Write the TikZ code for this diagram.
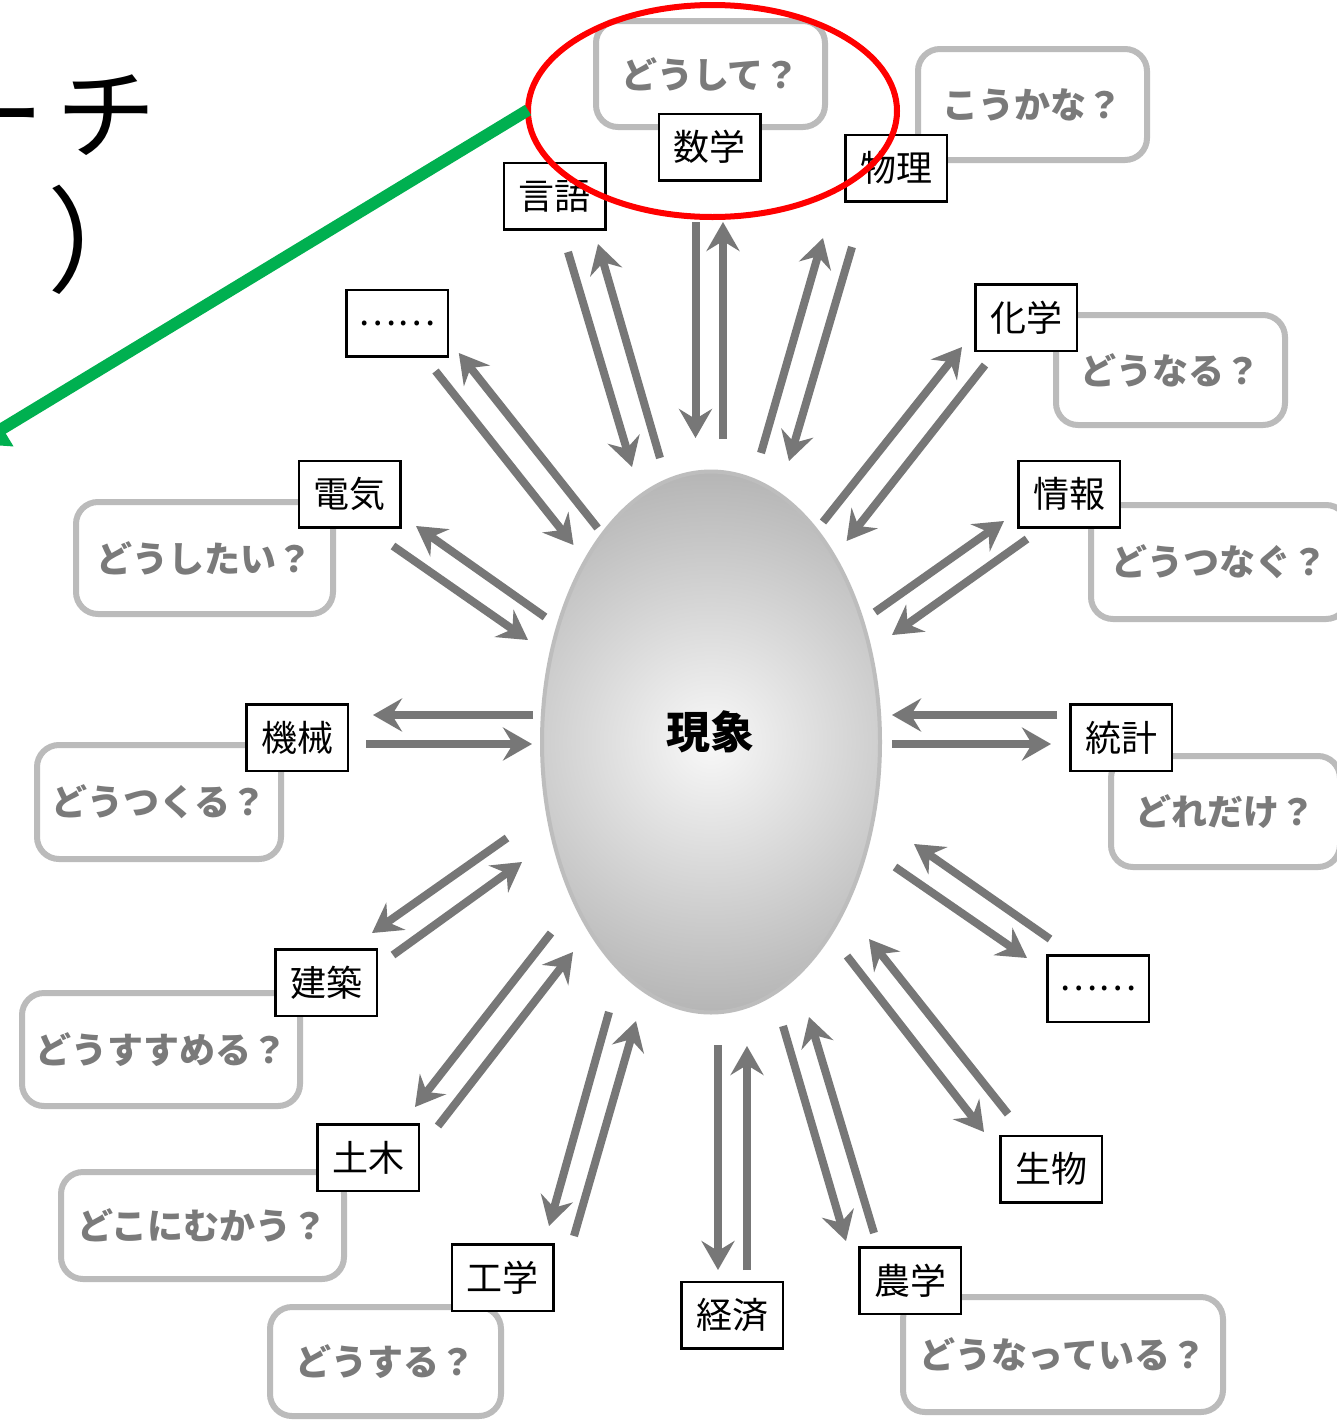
\documentclass[tikz,border=0pt]{standalone}
\usepackage{fontspec}
\newfontfamily\jp{Noto Sans CJK JP}
\usetikzlibrary{arrows.meta,shapes.geometric}
\definecolor{arrowgray}{HTML}{777777}
\definecolor{qborder}{HTML}{BBBBBB}
\definecolor{qtext}{HTML}{7A7A7A}
\definecolor{egin}{HTML}{F8F8F8}
\definecolor{egout}{HTML}{B5B5B5}
\definecolor{egline}{HTML}{BDBDBD}
\definecolor{hlgreen}{HTML}{00B050}
\pgfdeclareradialshading{eggshade}{\pgfpoint{0bp}{0bp}}{color(0bp)=(egin); color(25bp)=(egout); color(50bp)=(egout)}
\tikzset{
  subj/.style={draw=black, line width=2.5pt, fill=white, minimum width=101.5pt, minimum height=66.5pt, inner sep=0pt, font=\jp\fontsize{36}{40}\selectfont},
  qbox/.style={draw=qborder, line width=6pt, fill=white, rounded corners=22pt, inner sep=0pt, font=\jp\bfseries\fontsize{36}{40}\selectfont, text=qtext},
  flow/.style={draw=arrowgray, line width=8pt, -{Stealth[length=29pt,width=33pt,inset=10pt]}},
}
\newcommand\flowpair[5]{%
  \coordinate (#1-a0) at (#2); \coordinate (#1-a1) at (#3);
  \coordinate (#1-b0) at (#4); \coordinate (#1-b1) at (#5);
  \draw[flow] (#1-a0) -- (#1-a1);
  \draw[flow] (#1-b0) -- (#1-b1);}
\begin{document}
\begin{tikzpicture}[x=1pt,y=-1pt]
\useasboundingbox (0,0) rectangle (1337,1422);
\clip (0,0) rectangle (1337,1422);
\fill[white] (0,0) rectangle (1337,1422);

% question boxes
\node[qbox, minimum width=229pt, minimum height=106pt] (q-math) at (710.5,74) {どうして？};
\node[qbox, minimum width=229pt, minimum height=111pt] (q-phys) at (1032.5,104.5) {こうかな？};
\node[qbox, minimum width=229pt, minimum height=110pt] (q-chem) at (1170.5,370) {どうなる？};
\node[qbox, minimum width=257pt, minimum height=114pt] (q-info) at (1219.5,562) {どうつなぐ？};
\node[qbox, minimum width=229pt, minimum height=111pt] (q-stat) at (1225.5,811.5) {どれだけ？};
\node[qbox, minimum width=257pt, minimum height=112pt] (q-elec) at (204.5,558) {どうしたい？};
\node[qbox, minimum width=244pt, minimum height=114pt] (q-mech) at (159,802) {どうつくる？};
\node[qbox, minimum width=278pt, minimum height=113pt] (q-arch) at (161,1049.5) {どうすすめる？};
\node[qbox, minimum width=283pt, minimum height=107pt] (q-civil) at (202.5,1225.5) {どこにむかう？};
\node[qbox, minimum width=231pt, minimum height=109pt] (q-eng) at (385.5,1361.5) {どうする？};
\node[qbox, minimum width=320pt, minimum height=115pt] (q-agri) at (1063,1354.5) {どうなっている？};

% subject boxes
\node[subj] (math) at (709.5,147) {数学};
\node[subj] (lang) at (554.5,196) {言語};
\node[subj] (phys) at (896,168) {物理};
\node[subj] (etc1) at (397,323) {……};
\node[subj] (chem) at (1026,317.5) {化学};
\node[subj] (elec) at (349.5,494) {電気};
\node[subj] (info) at (1069,494) {情報};
\node[subj] (mech) at (297,737.5) {機械};
\node[subj] (stat) at (1121,737.5) {統計};
\node[subj] (arch) at (326,982.5) {建築};
\node[subj] (etc2) at (1098,988.5) {……};
\node[subj] (civil) at (368,1157.5) {土木};
\node[subj] (bio) at (1051,1169) {生物};
\node[subj] (eng) at (502.5,1277.5) {工学};
\node[subj] (econ) at (732,1315) {経済};
\node[subj] (agri) at (910,1280.5) {農学};

% central egg
\begin{scope}
  \clip (711,742) ellipse [x radius=169, y radius=270];
  \shade[shading=eggshade] (439,470) rectangle (983,1014);
\end{scope}
\node[ellipse, draw=egline, line width=4pt, minimum width=338pt, minimum height=541pt] (phen) at (711,742) {};
\node[font=\jp\bfseries\fontsize{44}{48}\selectfont, inner sep=0pt] (phentext) at (710,732) {現象};

% arrows
\flowpair{math}{695.5,222}{695.5,438}{723,439}{723,222}
\flowpair{lang}{568,252}{632,467}{660,458}{598,244}
\flowpair{phys}{761,453}{823,238}{852,247}{789,461}
\flowpair{etc1}{435.5,371}{573.5,545}{597.6,528}{458.8,353}
\flowpair{chem}{823,522}{962,347}{985,365}{846.6,541}
\flowpair{elec}{393,546}{528,640}{545,617}{416,526}
\flowpair{info}{875,612}{1004,521}{1027,539}{892,635}
\flowpair{stat}{1057,715}{892,715}{892,744}{1051,744}
\flowpair{mech}{533,715}{373,715}{366,744}{532,744}
\flowpair{arch}{507,838}{372,933}{393,955}{522,862}
\flowpair{etc2}{895,867}{1027,958}{1050,939}{914,844}
\flowpair{civil}{551,933}{415,1107}{438,1126}{573,952}
\flowpair{bio}{847,956}{984,1132}{1008,1114}{869,939}
\flowpair{eng}{609,1012}{549,1226}{574,1236}{636,1021}
\flowpair{econ}{718,1045}{718,1270}{747,1270}{747,1046}
\flowpair{agri}{783,1026}{846,1241}{874,1233}{809,1017}

% highlight
\node[ellipse, draw=red, line width=6pt, minimum width=369pt, minimum height=212pt] (hl) at (712.5,111) {};
\coordinate (gstart) at (528,110);
\coordinate (gend) at (-23,444);
\draw[hlgreen, line width=12pt, -{Triangle[length=30pt,width=40pt]}] (gstart) -- (gend);

% cut-off title
\node[font=\jp\fontsize{100}{100}\selectfont, anchor=base east, inner sep=0pt] (title1) at (157,151) {ー\hspace{12pt}チ};
\node[font=\jp\fontsize{115}{115}\selectfont, anchor=base west, inner sep=0pt] (title2) at (47,283) {）};
\end{tikzpicture}
\end{document}
